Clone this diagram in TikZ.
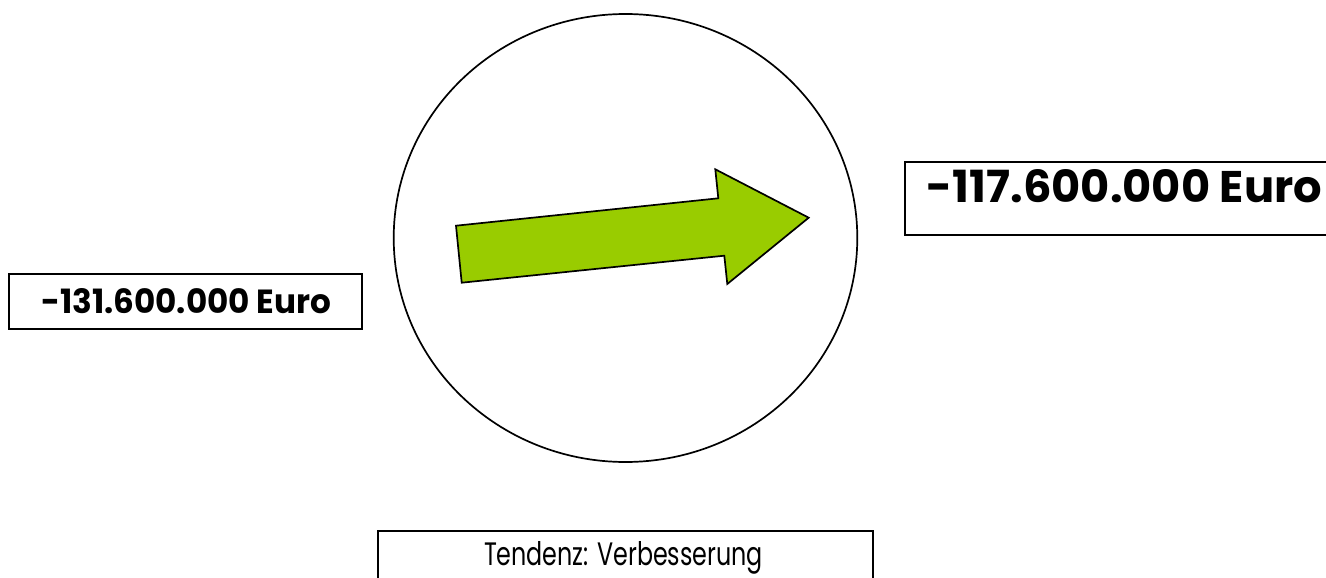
\documentclass[tikz,border=0pt]{standalone}
\usepackage{fontspec}
\setmainfont{Poppins}
\usepackage{graphicx}
\usetikzlibrary{shapes.geometric}
\definecolor{arrowgreen}{HTML}{99CC00}
\begin{document}
\begin{tikzpicture}[x=1pt,y=-1pt,
  box/.style={draw=black, line width=2pt, rectangle, inner sep=0pt},
  lbl/.style={inner sep=0pt, anchor=base west},
  ring/.style={draw=black, line width=1.7pt, ellipse, inner sep=0pt},
  bigarrow/.style={draw=black, line width=1.7pt, fill=arrowgreen, line join=miter}]
\useasboundingbox (0,0) rectangle (1326,578);
\clip (0,0) rectangle (1326,578);
% circle
\node[ring, minimum width=463.6pt, minimum height=448pt] (c) at (625.5,238) {};
% arrow
\draw[bigarrow] (456,225.7) -- (718.3,198.3) -- (715.3,169.3) -- (808.7,217.7)
  -- (727.3,284) -- (724.3,255.7) -- (461.7,282.7) -- cycle;
% boxes
\node[box, minimum width=353pt, minimum height=55.3pt] (lbox) at (185.8,301.7) {};
\node[box, minimum width=440pt, minimum height=73pt] (rbox) at (1125.3,198.8) {};
\node[box, minimum width=495.3pt, minimum height=69.3pt] (bbox) at (625.7,565.3) {};
% texts
\node[lbl] (lt) at (41,313.3) {\resizebox{290pt}{25pt}{\bfseries -131.600.000 Euro}};
\node[lbl] (rt) at (926.7,202.7) {\resizebox{395pt}{33pt}{\bfseries -117.600.000 Euro}};
\node[inner sep=0pt, anchor=base] (bt) at (623.5,565.7) {\resizebox{279pt}{24pt}{Tendenz: Verbesserung}};
\end{tikzpicture}
\end{document}
